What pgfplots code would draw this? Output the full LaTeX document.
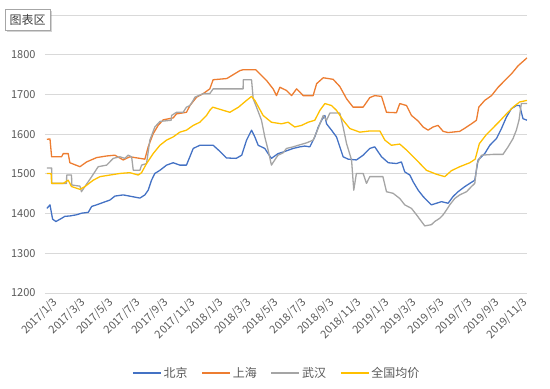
\documentclass[border=0pt]{standalone}
\usepackage{fontspec}
\setmainfont{Noto Sans CJK SC}
\usepackage{pgfplots}
\pgfplotsset{compat=1.18}
\usetikzlibrary{shadows}
\definecolor{bj}{HTML}{4472C4}
\definecolor{sh}{HTML}{ED7D31}
\definecolor{wh}{HTML}{A5A5A5}
\definecolor{qg}{HTML}{FFC000}
\definecolor{gridc}{HTML}{D9D9D9}
\definecolor{txt}{HTML}{595959}
\begin{document}
\begin{tikzpicture}
\path[use as bounding box] (0,0) rectangle (550pt,389pt);
\begin{axis}[
  at={(45pt,96pt)}, anchor=south west,
  scale only axis, width=482pt, height=278pt,
  xmin=-0.14, xmax=34.75, ymin=1200, ymax=1900,
  ytick={1200,1300,...,1800},
  extra y ticks={1900}, extra y tick labels={},
  ymajorgrids, grid style={draw=gridc, line width=0.8pt},
  extra y tick style={grid style={draw=gridc, line width=0.8pt}},
  axis line style={draw=none},
  major tick length=0,
  xtick={0,2,...,34},
  xticklabels={2017/1/3,2017/3/3,2017/5/3,2017/7/3,2017/9/3,2017/11/3,2018/1/3,2018/3/3,2018/5/3,2018/7/3,2018/9/3,2018/11/3,2019/1/3,2019/3/3,2019/5/3,2019/7/3,2019/9/3,2019/11/3},
  xticklabel style={rotate=45, anchor=north east, font=\fontsize{11}{12}\selectfont, text=txt, inner sep=1pt, yshift=-5pt, xshift=2pt},
  yticklabel style={font=\fontsize{11}{12}\selectfont, text=txt, xshift=-6pt},
  /pgf/number format/assume math mode=true,
  /pgf/number format/1000 sep={},
  legend columns=4,
  legend style={at={(0.481,-0.288)}, anchor=center, draw=none, fill=none,
    font=\fontsize{12}{13}\selectfont, text=txt, inner sep=0pt,
    /tikz/every odd column/.append style={column sep=0pt},
    /tikz/every even column/.append style={column sep=12pt}},
  legend image code/.code={\draw[#1] (0pt,0pt) -- (28pt,0pt);},
  every axis plot/.append style={line width=1.3pt, sharp plot, no marks, line join=round},
]
\addplot[bj] coordinates {
(0,1413)(0.22,1422)(0.41,1386)(0.65,1380)(1.06,1388)(1.3,1393)(1.66,1394)(2.15,1397)(2.51,1401)(2.99,1403)(3.24,1418)(3.6,1422)(4.07,1428)(4.56,1434)(4.92,1444)(5.52,1447)(6.13,1443)(6.73,1439)(7.09,1447)(7.33,1459)(7.57,1484)(7.81,1501)(8.18,1509)(8.66,1522)(9.14,1528)(9.62,1522)(10.1,1522)(10.59,1564)(11.07,1572)(12.03,1572)(12.51,1557)(13.0,1540)(13.7,1539)(14.1,1547)(14.45,1585)(14.81,1610)(15.05,1593)(15.29,1572)(15.77,1564)(16.01,1551)(16.25,1539)(16.73,1551)(17.1,1555)(17.82,1564)(18.31,1568)(18.67,1570)(19.03,1568)(19.39,1593)(19.64,1618)(19.88,1635)(20.12,1647)(20.24,1626)(20.6,1610)(20.96,1593)(21.2,1568)(21.44,1543)(21.81,1537)(22.4,1535)(22.89,1547)(23.37,1564)(23.73,1568)(24.22,1543)(24.71,1528)(25.3,1526)(25.66,1530)(25.9,1505)(26.27,1497)(26.51,1480)(26.87,1459)(27.23,1443)(27.59,1430)(27.83,1422)(28.2,1426)(28.56,1430)(29.04,1426)(29.4,1443)(29.76,1455)(30.25,1468)(30.61,1476)(30.97,1484)(31.21,1535)(31.69,1551)(32.06,1572)(32.54,1589)(32.9,1614)(33.26,1643)(33.62,1664)(33.98,1672)(34.22,1672)(34.46,1639)(34.75,1635)
};
\addlegendentry{北京}
\addplot[sh] coordinates {
(0,1587)(0.22,1588)(0.34,1543)(1.06,1543)(1.18,1551)(1.54,1551)(1.66,1528)(2.39,1518)(2.87,1530)(3.6,1541)(4.32,1545)(4.92,1547)(5.52,1535)(6.0,1543)(6.73,1539)(7.09,1537)(7.33,1568)(7.69,1601)(8.05,1622)(8.42,1636)(9.14,1641)(9.38,1651)(10.1,1655)(10.35,1672)(10.83,1693)(11.31,1702)(11.79,1714)(12.03,1737)(13.02,1740)(13.97,1760)(14.18,1762)(15.12,1762)(15.41,1752)(15.9,1735)(16.37,1714)(16.62,1697)(16.86,1718)(17.34,1710)(17.71,1697)(18.07,1714)(18.31,1706)(18.55,1697)(19.27,1697)(19.52,1727)(20.0,1742)(20.72,1738)(21.2,1720)(21.69,1689)(22.16,1668)(22.89,1668)(23.37,1692)(23.73,1697)(24.22,1695)(24.58,1655)(25.3,1654)(25.54,1677)(26.03,1672)(26.39,1647)(26.87,1633)(27.23,1618)(27.59,1610)(27.95,1618)(28.31,1622)(28.68,1607)(29.04,1604)(29.88,1607)(30.25,1615)(30.73,1626)(31.09,1635)(31.26,1668)(31.69,1685)(32.18,1697)(32.66,1718)(33.14,1735)(33.63,1752)(34.1,1772)(34.75,1792)
};
\addlegendentry{上海}
\addplot[wh] coordinates {
(0,1515)(0.34,1515)(0.35,1476)(1.42,1476)(1.43,1497)(1.78,1497)(1.8,1472)(2.39,1469)(2.5,1455)(2.75,1468)(3.24,1493)(3.71,1518)(4.32,1522)(4.8,1539)(5.28,1543)(5.64,1539)(5.88,1547)(6.13,1543)(6.25,1509)(6.73,1509)(6.85,1522)(7.21,1526)(7.45,1585)(7.81,1618)(8.18,1632)(9.0,1635)(9.02,1647)(9.38,1655)(9.86,1655)(10.1,1668)(10.35,1672)(10.59,1685)(10.71,1693)(11.31,1702)(11.79,1702)(12.03,1714)(14.2,1714)(14.21,1737)(14.81,1737)(14.93,1689)(15.17,1668)(15.53,1635)(15.77,1593)(16.01,1560)(16.25,1522)(16.49,1535)(16.73,1547)(17.1,1553)(17.34,1564)(17.82,1568)(18.19,1572)(18.79,1578)(19.27,1585)(19.52,1605)(19.76,1626)(20.0,1647)(20.24,1635)(20.48,1653)(21.2,1653)(21.44,1618)(21.69,1576)(22.05,1535)(22.21,1459)(22.4,1501)(22.89,1501)(23.13,1476)(23.37,1493)(24.32,1493)(24.58,1455)(25.06,1451)(25.54,1438)(25.9,1422)(26.39,1413)(26.75,1397)(27.11,1380)(27.35,1369)(27.83,1372)(28.07,1380)(28.43,1388)(28.68,1397)(28.92,1409)(29.16,1422)(29.52,1438)(29.88,1447)(30.37,1455)(30.73,1468)(30.97,1476)(31.14,1526)(31.45,1547)(32.29,1549)(33.01,1549)(33.38,1568)(33.74,1589)(33.98,1610)(34.17,1635)(34.34,1677)(34.75,1677)
};
\addlegendentry{武汉}
\addplot[qg] coordinates {
(0,1501)(0.3,1501)(0.34,1476)(1.18,1476)(1.54,1484)(1.78,1468)(2.39,1461)(2.75,1468)(3.35,1484)(3.84,1493)(4.56,1497)(5.28,1501)(6.0,1503)(6.61,1497)(6.85,1503)(7.21,1526)(7.69,1551)(8.18,1572)(8.66,1585)(9.14,1593)(9.62,1605)(10.1,1610)(10.59,1622)(11.07,1630)(11.55,1647)(11.79,1660)(12.0,1668)(12.76,1660)(13.24,1655)(13.87,1668)(14.45,1685)(14.81,1695)(15.05,1685)(15.65,1647)(16.25,1630)(16.98,1626)(17.46,1630)(17.94,1618)(18.43,1622)(18.91,1630)(19.39,1635)(19.76,1660)(20.12,1677)(20.6,1672)(20.96,1660)(21.44,1635)(21.93,1614)(22.65,1605)(23.37,1608)(24.1,1608)(24.46,1585)(24.94,1572)(25.54,1575)(26.03,1560)(26.75,1535)(27.47,1509)(28.2,1499)(28.8,1493)(29.28,1508)(29.88,1518)(30.61,1528)(31.0,1537)(31.3,1576)(31.81,1599)(32.3,1616)(32.78,1633)(33.26,1651)(33.74,1668)(34.22,1681)(34.75,1685)
};
\addlegendentry{全国均价}
\end{axis}
\node[draw=gray!70, fill=white, text=black!75, font=\fontsize{12}{14}\selectfont,
  minimum width=45pt, minimum height=21pt, inner sep=1pt,
  drop shadow={shadow xshift=1.5pt, shadow yshift=-1.5pt, opacity=0.35}]
  at (27.5pt,369pt) {图表区};
\end{tikzpicture}
\end{document}
